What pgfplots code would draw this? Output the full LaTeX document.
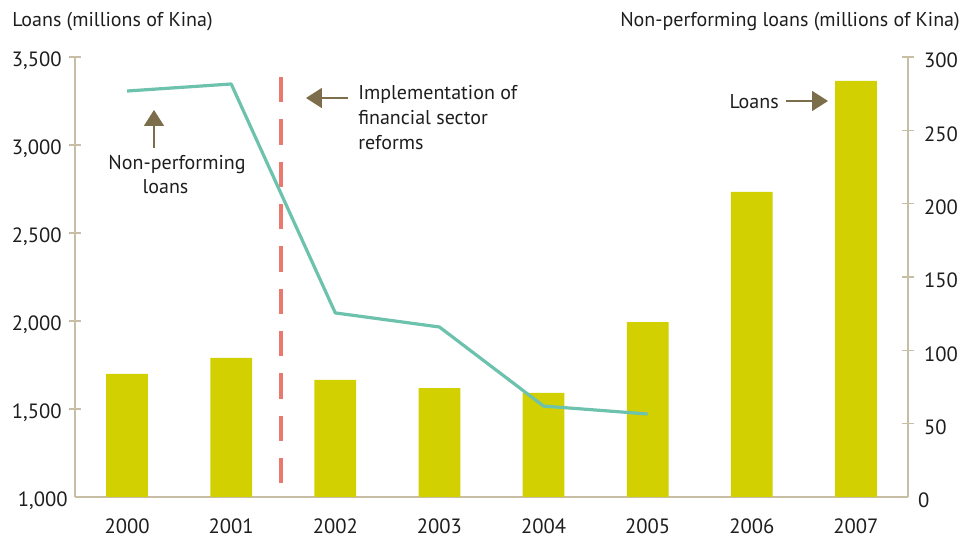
\documentclass[border=0pt]{standalone}
\usepackage{fontspec}
\setmainfont{PT Sans}
\usepackage{pgfplots}
\pgfplotsset{compat=1.18}
\usetikzlibrary{arrows.meta}
\definecolor{axiscol}{RGB}{200,190,165}
\definecolor{barcol}{RGB}{210,208,0}
\definecolor{linecol}{RGB}{108,194,172}
\definecolor{dashcol}{RGB}{235,120,110}
\definecolor{arrowcol}{RGB}{125,110,75}
\definecolor{txt}{RGB}{30,30,30}
\begin{document}
\begin{tikzpicture}[font=\fontsize{15}{18}\selectfont, text=txt]
\useasboundingbox (-56.25pt,-30.75pt) rectangle (666.75pt,372.75pt);
\node[anchor=base west, inner sep=0] at (-47.25pt,352.5pt) {Loans (millions of Kina)};
\node[anchor=base east, inner sep=0] at (663.75pt,352.5pt) {Non-performing loans (millions of Kina)};
\begin{axis}[
  at={(0pt,0pt)}, anchor=south west,
  scale only axis, width=624.75pt, height=330pt,
  xmin=-0.5, xmax=7.5, ymin=1000, ymax=3500,
  axis lines*=left,
  axis line style={draw=axiscol, line width=1.2pt},
  tick align=center,
  major tick length=9pt,
  ytick={1500,2000,...,3500},
  extra y ticks={1000},
  extra y tick style={major tick length=0pt},
  y tick style={draw=axiscol, line width=1pt},
  xtick={0,...,7}, xticklabels={2000,2001,2002,2003,2004,2005,2006,2007},
  x tick style={draw=none},
  minor xtick={0.5,1.5,...,6.5},
  minor tick length=13.5pt,
  minor tick style={draw=axiscol, line width=1pt},
  /pgf/number format/assume math mode=true,
  yticklabel style={/pgf/number format/1000 sep={,}, font=\fontsize{15.5}{18}\selectfont, xshift=-2pt, yshift=-2.6pt},
  xticklabel style={font=\fontsize{15.5}{18}\selectfont, yshift=-8pt},
  clip=false,
]
\addplot[ybar, bar width=0.4, fill=barcol, draw=none] coordinates {(0,1700) (1,1790) (2,1665) (3,1619) (4,1591) (5,1994) (6,2733) (7,3364)};
\draw[dashcol, line width=3pt, dash pattern=on 19pt off 12.75pt] (axis cs:1.478,3386) -- (axis cs:1.478,1057);
\draw[arrowcol, line width=1.2pt, -{Triangle[width=15pt,length=12pt]}] (axis cs:0.2587,2983) -- (axis cs:0.2587,3199);
\node[anchor=base, inner sep=0] at (axis cs:0.4796,2858) {Non-performing};
\node[anchor=base, inner sep=0] at (axis cs:0.369,2727) {loans};
\draw[arrowcol, line width=1.2pt, -{Triangle[width=15pt,length=12pt]}] (axis cs:2.122,3267) -- (axis cs:1.718,3267);
\node[anchor=base west, inner sep=0] at (axis cs:2.218,3261) {Implementation of};
\node[anchor=base west, inner sep=0] at (axis cs:2.218,3119) {financial sector};
\node[anchor=base west, inner sep=0] at (axis cs:2.218,2977) {reforms};
\draw[arrowcol, line width=1.2pt, -{Triangle[width=15pt,length=12pt]}] (axis cs:6.328,3250) -- (axis cs:6.732,3250);
\node[anchor=base east, inner sep=0] at (axis cs:6.261,3210) {Loans};
\end{axis}
\begin{axis}[
  at={(0pt,0pt)}, anchor=south west,
  scale only axis, width=624.75pt, height=330pt,
  xmin=-0.5, xmax=7.5, ymin=0, ymax=300,
  axis x line=none,
  axis y line*=right,
  axis line style={draw=axiscol, line width=1.2pt},
  tick align=center,
  major tick length=9pt,
  ytick={50,100,...,300},
  extra y ticks={0},
  extra y tick style={major tick length=0pt},
  y tick style={draw=axiscol, line width=1pt},
  /pgf/number format/assume math mode=true,
  yticklabel style={font=\fontsize{15.5}{18}\selectfont, xshift=4pt, yshift=-2.6pt},
]
\addplot[linecol, line width=2.4pt, line join=round] coordinates {(0,276.8) (1,281.6) (2,125.5) (3,115.9) (4,62) (5,56.6)};
\end{axis}
\end{tikzpicture}
\end{document}
